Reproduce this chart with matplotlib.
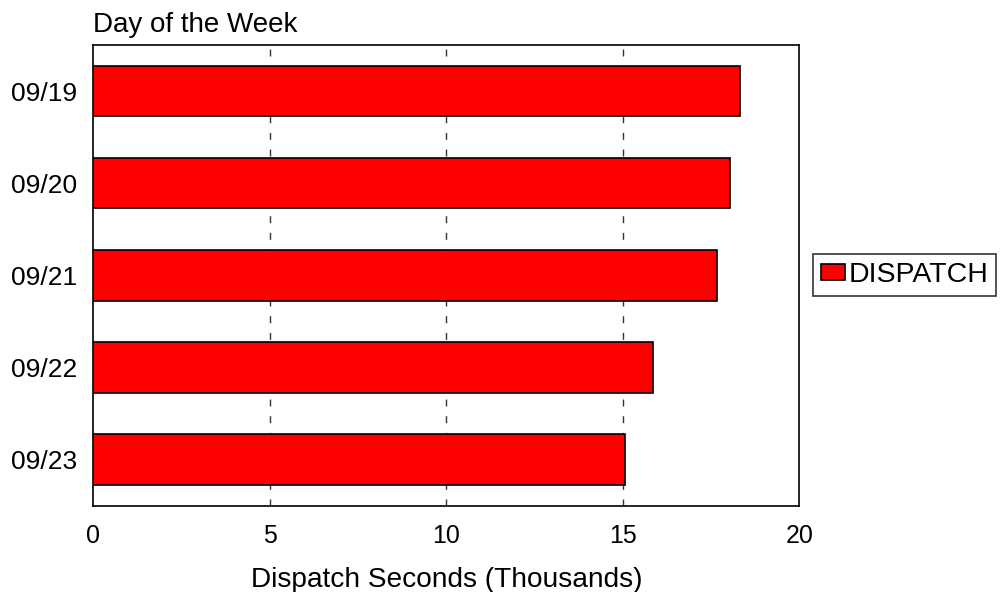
import matplotlib
matplotlib.use("Agg")
import matplotlib.pyplot as plt

categories = ["09/19", "09/20", "09/21", "09/22", "09/23"]
dispatch = [18.32, 18.05, 17.68, 15.85, 15.07]
xticks = [0, 5, 10, 15, 20]

plt.rcParams['font.family'] = ['Liberation Sans', 'DejaVu Sans']

fig = plt.figure(figsize=(10.03, 5.92), dpi=100)
ax = fig.add_axes([93.5/1003, (592-505.5)/592, 705.8/1003, 460.5/592])

ypos = list(range(len(categories)))
ax.barh(ypos, dispatch, height=0.55, color='#ff0000', edgecolor='black',
        linewidth=1.2, label='DISPATCH', zorder=3)
ax.set_ylim(len(categories)-0.5, -0.5)
ax.set_xlim(0, 20)
ax.set_yticks(ypos)
ax.set_yticklabels(categories, fontsize=19)
ax.set_xticks(xticks)
ax.set_xticklabels([str(t) for t in xticks], fontsize=18)
ax.tick_params(length=0)
ax.tick_params(axis='x', pad=13)
ax.tick_params(axis='y', pad=12)
for x in xticks[1:-1]:
    ax.axvline(x, color='#333333', linestyle=(0, (5, 7)), linewidth=1, zorder=1)
for s in ax.spines.values():
    s.set_linewidth(1.2)
    s.set_color('black')

ax.set_xlabel("Dispatch Seconds (Thousands)", fontsize=20.2, labelpad=14)
ax.set_title("Day of the Week", fontsize=20, loc='left', pad=9)

leg = fig.legend(loc='center left', bbox_to_anchor=(813/1003, (592-275)/592),
                 fontsize=20.5, frameon=True, fancybox=False, handlelength=0.85,
                 handleheight=0.45, handletextpad=0.12, borderpad=0.28,
                 borderaxespad=0)
leg.get_frame().set_edgecolor('black')
leg.get_frame().set_linewidth(1.2)

fig.savefig("out.png", dpi=100)
